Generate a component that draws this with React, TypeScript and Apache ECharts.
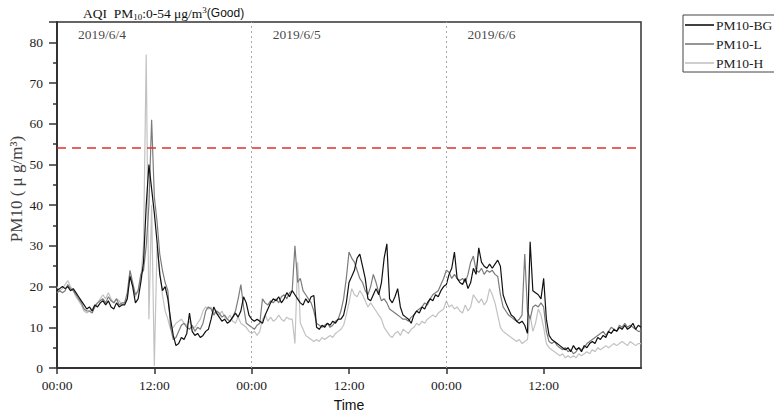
import React, { useEffect, useRef } from "react";
import * as echarts from "echarts";

// PM10 readings every 20 minutes, 2019/6/4 00:00 to 2019/6/6 24:00 (217 samples)
const STEP_HOURS = 1 / 3;

const pm10BG = [
  19, 19.5, 20, 19.5, 20, 19, 19.5, 18.5, 17.5, 16.5, 15.5, 14.5,
  15, 14, 15.5, 15, 16, 16.5, 15.5, 16.5, 15, 14.5, 16, 15,
  15.5, 15.5, 17, 22.5, 20, 16, 17, 21, 26, 40, 50, 44,
  38, 31, 23, 19, 20, 17, 12, 8, 5.5, 6, 7.5, 7,
  8.5, 13.5, 9, 8, 8.5, 7.5, 8, 9, 9.5, 12, 15, 13.5,
  12.5, 11.5, 12, 11, 11.5, 12.5, 13.5, 12.5, 14, 17.5, 16, 13,
  12, 11.5, 12, 11.5, 11, 13, 14.5, 16, 17, 16.5, 17.5, 16,
  17, 18.5, 17.5, 19, 18, 17, 16, 15.5, 17, 16, 17.5, 17.8,
  10, 9.5, 10.5, 10, 11, 10.5, 11.5, 11, 12, 12, 13, 16,
  21, 22.5, 24, 27, 28, 25, 22, 17, 16.5, 18, 19.5, 18,
  21, 27, 30.5, 17, 16, 17.5, 19.5, 15, 13, 12.5, 12, 11,
  13, 14, 13.5, 15, 14.5, 16, 17, 16.5, 18, 17.5, 19, 20,
  20.5, 23, 24.5, 28.5, 22, 21, 20.5, 22, 19.5, 21, 24.5, 23,
  29.5, 26, 25, 24.5, 25.5, 24.5, 25.5, 26.5, 25, 18, 16, 14.5,
  13, 12.5, 11.5, 11, 11.5, 10.5, 8.5, 31, 19, 18.5, 18, 17,
  22, 12, 8, 7, 6.5, 6, 5.5, 5, 4.5, 5, 4, 5.5,
  4.5, 5, 4, 5.5, 5, 6, 6.5, 6, 7.5, 7, 8, 7.5,
  9, 8.5, 9.5, 9, 10, 9.5, 10.5, 9.5, 10, 11, 9.5, 10.5,
  10,
];

const pm10L = [
  18.5, 19, 18.5, 19, 20.5, 19.5, 19, 18, 17, 16, 14.5, 14,
  14, 13.5, 15, 16, 16.5, 17, 16, 17.5, 16.5, 16, 17, 15.5,
  16, 16, 18.5, 24, 21, 18, 19, 23, 24, 30, 40, 61,
  42, 36, 28, 24, 21, 19, 10, 7, 7.5, 9, 10.5, 11,
  10, 9.5, 10.5, 9, 10, 9.5, 11, 14, 15, 14.5, 13, 14,
  13.5, 12.5, 13, 12, 11.5, 12.5, 14, 17, 20.5, 15, 11, 10.5,
  10, 9.5, 10.5, 11, 17, 16, 15.5, 16.5, 16, 17, 16, 17.5,
  18, 17, 18.5, 19, 30, 21, 22, 19, 18, 17, 16, 14,
  11, 10.5, 10, 10.5, 11, 10, 10.5, 11.5, 12, 14, 17, 22,
  28.5, 27, 26, 24, 22, 21, 19, 18, 20, 23, 21, 18.5,
  16.5, 17, 16, 14.5, 14, 13.5, 13, 12.5, 12, 12, 11.5, 12.5,
  13, 14, 14.5, 15, 16, 15.5, 17, 18, 18.5, 19, 20.5, 22,
  24, 23.5, 22, 23, 22, 21.5, 22, 21, 23, 26, 27.5, 24,
  23.5, 24.5, 23, 24, 23.5, 24, 23, 22.5, 18, 15, 14, 13,
  12.5, 12, 11.5, 12, 13, 28, 14, 12, 15, 15.5, 15, 16,
  15, 9, 6.5, 6, 6.5, 5.5, 5, 4.5, 5, 4, 4.5, 3.5,
  4, 5, 4.5, 5, 6, 6.5, 7, 7.5, 8, 8.5, 9, 8,
  9, 10, 9.5, 9, 10.5, 10, 11, 10, 10.5, 10, 9.5, 9,
  9,
];

const pm10H = [
  20, 19, 19.5, 20.5, 21.5, 20, 19, 17.5, 16.5, 15.5, 14, 13.5,
  14, 14.5, 15.5, 16, 17, 18, 17, 18.5, 17, 16, 17, 16.5,
  15.5, 16, 17, 23.5, 20, 17.5, 19, 22, 30, 77, 12, 40,
  0.5, 30, 24, 18, 14, 12, 9.5, 10, 11, 11.5, 12, 11,
  10.5, 11.5, 10, 10, 11, 12, 14, 15, 14.5, 15, 13.5, 14,
  13, 14, 12.5, 12, 13, 11.5, 11, 12.5, 11, 10.5, 10, 9,
  8.5, 9, 8, 9, 12, 13, 11.5, 12.5, 11.5, 12, 13, 12,
  11.5, 12.5, 12, 12, 6, 26, 11, 9.5, 8, 7.5, 7, 6.5,
  7, 6.5, 7.5, 7, 7.5, 8, 7.5, 8.5, 9, 9.5, 10.5, 13,
  16, 19.5, 18, 17.5, 19, 18, 16.5, 15, 16, 15, 14, 13,
  12, 10, 9, 8, 7.5, 8.5, 9, 8, 9.5, 9, 8.5, 9.5,
  10, 11, 10.5, 11.5, 11, 12, 12.5, 13, 12.5, 13.5, 14, 14.5,
  16.5, 15, 15.5, 14.5, 15, 14, 13.5, 15.5, 14, 15, 18, 17,
  16, 17, 15.5, 16.5, 19.5, 18, 16, 13, 10, 9, 8.5, 8,
  7.5, 7, 6.5, 7, 6, 6.5, 7, 13, 9, 11, 14.5, 13,
  10, 6, 5, 4.5, 4, 3.5, 3, 3.5, 2.5, 3, 2.5, 3,
  2.5, 3.5, 3, 3.5, 4, 3.5, 4.5, 4, 5, 4.5, 5, 5.5,
  5, 5.5, 6, 5.5, 6, 6.5, 6, 5.5, 6.5, 6, 5.5, 6,
  6,
];

const seriesNames = ["PM10-BG", "PM10-L", "PM10-H"];
const seriesColors = ["#111111", "#7c7c7c", "#c2c2c2"];
const dayLabels = ["2019/6/4", "2019/6/5", "2019/6/6"];
const dayBoundaries = [24, 48];
const goodLimit = 54;
const xTickLabels = ["00:00", "12:00"];

const SERIF = "'Liberation Serif', 'Times New Roman', serif";
const SANS = "'Liberation Sans', Arial, sans-serif";

const toPairs = (values: number[]) =>
  values.map((v, i) => [i * STEP_HOURS, v]);

export default function App() {
  const ref = useRef<HTMLDivElement>(null);

  useEffect(() => {
    if (!ref.current) return;
    const chart = echarts.init(ref.current, undefined, { renderer: "svg" });

    const valueSets = [pm10BG, pm10L, pm10H];
    const lineSeries = valueSets.map((vals, k) => ({
      name: seriesNames[k],
      type: "line",
      data: toPairs(vals),
      symbol: "none",
      z: 4 - k,
      lineStyle: { color: seriesColors[k], width: 1.2 },
      itemStyle: { color: seriesColors[k] },
      silent: true,
      ...(k === 0
        ? {
            markLine: {
              silent: true,
              symbol: "none",
              label: { show: false },
              data: [
                {
                  yAxis: goodLimit,
                  lineStyle: { color: "#e0312f", type: [9, 6], width: 1.5 },
                },
                ...dayBoundaries.map((h) => ({
                  xAxis: h,
                  lineStyle: { color: "#a8a8a8", type: [2, 3], width: 1 },
                })),
              ],
            },
          }
        : {}),
    }));

    const richBase = { color: "#111", fontWeight: "normal" };

    const option = {
      animation: false,
      backgroundColor: "#ffffff",
      title: {
        left: 78,
        top: 0,
        text: "{a|AQI  PM}{sub|10}{a|:0-54 μg/m}{sup|3}{b|(Good)}",
        textStyle: {
          fontWeight: "normal",
          rich: {
            a: { ...richBase, fontFamily: SERIF, fontSize: 13.5, lineHeight: 16 },
            sub: {
              ...richBase,
              fontFamily: SERIF,
              fontSize: 9,
              lineHeight: 9,
              verticalAlign: "bottom",
            },
            sup: {
              ...richBase,
              fontFamily: SERIF,
              fontSize: 9,
              lineHeight: 9,
              verticalAlign: "top",
            },
            b: { ...richBase, fontFamily: SANS, fontSize: 12, lineHeight: 16 },
          },
        },
      },
      legend: {
        data: seriesNames,
        orient: "vertical",
        left: 683,
        top: 15,
        icon: "rect",
        itemWidth: 29,
        itemHeight: 1.6,
        itemGap: 5,
        padding: [3, 3, 2, 2],
        borderColor: "#444",
        borderWidth: 1,
        selectedMode: false,
        textStyle: {
          fontFamily: SERIF,
          fontSize: 13.5,
          color: "#222",
          lineHeight: 14,
          padding: [0, 0, 0, -3],
        },
      },
      grid: {
        left: 57,
        top: 22,
        width: 584,
        height: 346,
        outerBoundsMode: "none",
        containLabel: false,
        show: true,
        borderColor: "#333",
        borderWidth: 1.5,
        backgroundColor: "transparent",
      },
      xAxis: {
        type: "value",
        min: 0,
        max: 72,
        interval: 12,
        name: "Time",
        nameLocation: "middle",
        nameGap: 30,
        nameMoveOverlap: false,
        nameTextStyle: { fontFamily: SANS, fontSize: 14, color: "#111" },
        axisLine: { show: true, lineStyle: { color: "#333", width: 2 } },
        axisTick: { show: true, length: 6, lineStyle: { color: "#333", width: 1.5 } },
        splitLine: { show: false },
        axisLabel: {
          showMaxLabel: false,
          margin: 10,
          fontFamily: SERIF,
          fontSize: 13.5,
          color: "#222",
          formatter: (v: number) => xTickLabels[Math.round(v / 12) % 2],
        },
      },
      yAxis: {
        type: "value",
        min: 0,
        max: 85,
        interval: 10,
        name: "PM10 ( μ g/m³)",
        nameLocation: "middle",
        nameGap: 32,
        nameMoveOverlap: false,
        nameRotate: 90,
        nameTextStyle: { fontFamily: SERIF, fontSize: 17, color: "#444", padding: [0, 0, 0, 12] },
        axisLine: { show: true, lineStyle: { color: "#333", width: 2 } },
        axisTick: { show: true, length: 8, lineStyle: { color: "#333", width: 1.5 } },
        minorTick: { show: true, splitNumber: 2, length: 4, lineStyle: { color: "#333", width: 1.5 } },
        splitLine: { show: false },
        axisLabel: {
          showMaxLabel: false,
          margin: 14,
          fontFamily: SERIF,
          fontSize: 13.5,
          color: "#222",
        },
      },
      series: [
        ...lineSeries,
        {
          name: "days",
          type: "scatter",
          symbolSize: 0,
          silent: true,
          z: 10,
          data: dayLabels.map((_, d) => [d * 24 + 2.6, 82]),
          label: {
            show: true,
            position: [0, 0],
            align: "left",
            verticalAlign: "middle",
            fontFamily: SERIF,
            fontSize: 13.5,
            color: "#111",
            formatter: (p: any) => dayLabels[p.dataIndex],
          },
        },
      ],
    };

    chart.setOption(option as any);
    return () => chart.dispose();
  }, []);

  return (
    <div
      ref={ref}
      style={{ position: "fixed", left: 0, top: 0, width: 774, height: 416, background: "#fff" }}
    />
  );
}
